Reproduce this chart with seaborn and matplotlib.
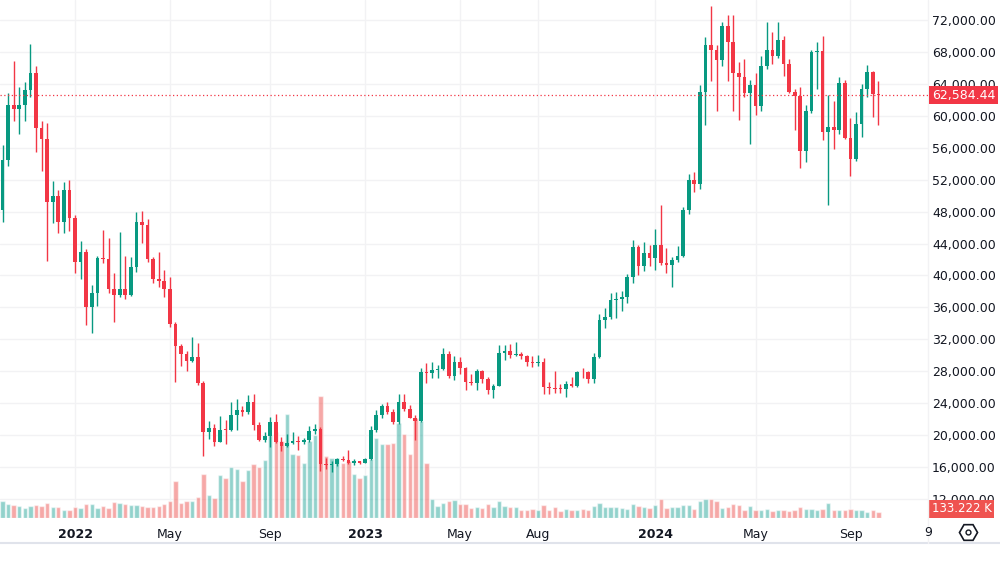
import numpy as np
import pandas as pd
import matplotlib
matplotlib.use("Agg")
import matplotlib.pyplot as plt
import seaborn as sns
from matplotlib.transforms import blended_transform_factory
from matplotlib.lines import Line2D

# Weekly BTC/USDT candles, week of 2021-10-04 ... 2024-10-07
opens = [48200, 54500, 61400, 60900, 61400, 63200, 65400, 58500, 57100, 49200,
         50000, 46700, 50700, 47200, 41700, 43000, 36000, 37800, 42200, 42000,
         38300, 37500, 38300, 37500, 41100, 46700, 46300, 42000, 39500, 39300,
         38300, 33900, 31200, 30200, 29300, 29800, 26500, 20400, 20900, 19200,
         20700, 20600, 22500, 23100, 22900, 24200, 21300, 19400, 19900, 21700,
         19200, 18600, 19000, 19300, 19200, 19400, 20500, 20800, 16350, 16200,
         16400, 17000, 16900, 16500, 16700, 16550, 17000, 20700, 22500, 23600,
         22900, 21600, 24200, 23300, 22200, 21800, 27900, 27800, 28100, 28300,
         30200, 27400, 29100, 28400, 26700, 26500, 28000, 27000, 25700, 26200,
         30300, 30600, 30000, 30200, 29900, 29100, 29000, 29200, 26000, 25900,
         25800, 25750, 26400, 26100, 27900, 27850, 27000, 29800, 34400, 34800,
         36900, 37100, 37250, 39800, 43600, 41200, 42800, 42200, 43800, 41500,
         41300, 41900, 42500, 48200, 52000, 51500, 63000, 68900, 68200, 67000,
         71200, 69200, 65400, 64800, 62900, 63900, 61200, 66200, 68300, 67500,
         69500, 66500, 63000, 62500, 55600, 60600, 68000, 68100, 58000, 58600,
         58200, 64100, 57200, 54600, 59000, 63400, 65500, 62700]
highs = [56400, 62800, 66900, 63600, 64200, 69000, 66300, 59400, 59100, 51800,
         50700, 51700, 52000, 47600, 44300, 43300, 38800, 42500, 45700, 44700,
         40300, 45400, 42500, 42300, 48000, 48100, 47100, 42300, 42900, 40700,
         39800, 34200, 31400, 30600, 32300, 31600, 26800, 21800, 21400, 22400,
         21900, 24200, 24500, 23600, 25000, 25200, 21700, 20400, 22300, 22700,
         19800, 20200, 20400, 19900, 19700, 21100, 21400, 21000, 17100, 16700,
         17100, 17400, 18200, 17000, 16800, 17100, 21100, 23200, 23900, 24200,
         23300, 25100, 25100, 23800, 22500, 28400, 29000, 29200, 28800, 30900,
         30500, 29900, 29800, 28500, 27700, 28300, 28200, 27300, 26400, 31300,
         31300, 31400, 31700, 30400, 30000, 29900, 30100, 29700, 26700, 28000,
         26400, 26800, 27300, 28000, 28400, 28000, 30300, 35200, 35900, 37800,
         37900, 38000, 40200, 44500, 43800, 44200, 43800, 45800, 48800, 43400,
         42300, 43700, 48600, 52700, 52900, 63900, 69900, 73700, 68900, 71700,
         72600, 72600, 66700, 67100, 64500, 65300, 67500, 71800, 70500, 71800,
         70000, 67100, 63400, 63600, 61400, 68200, 69200, 70000, 62600, 61800,
         64900, 64500, 59700, 60500, 64000, 66400, 65600, 64400]
lows = [46700, 53700, 59400, 57700, 59300, 62300, 55500, 53100, 41800, 46600,
        45300, 45300, 45600, 40300, 39600, 33800, 32800, 36200, 41500, 37800,
        34200, 37300, 37000, 37400, 40400, 44100, 41700, 39100, 38600, 37300,
        33600, 26600, 28600, 28000, 29200, 26300, 17400, 19500, 18600, 19100,
        18900, 20500, 20600, 22400, 22600, 20600, 19300, 19100, 18500, 19000,
        18000, 18500, 18900, 18200, 18900, 19200, 20100, 15500, 15800, 15400,
        16100, 16700, 16400, 16300, 16400, 16500, 16900, 20400, 22200, 22700,
        21400, 21400, 23000, 22100, 19400, 21700, 26500, 27100, 27200, 28200,
        27100, 26900, 27700, 25700, 26300, 25700, 26500, 25200, 24700, 26100,
        29400, 29700, 29900, 29500, 28700, 28500, 28600, 25100, 25200, 25300,
        25300, 24800, 26000, 26000, 27100, 26500, 26500, 29700, 33400, 34500,
        34700, 35600, 36600, 39000, 40100, 40500, 41200, 40700, 41300, 40300,
        38500, 41700, 42300, 47700, 50400, 50800, 58800, 64300, 60600, 66300,
        64400, 60600, 59500, 62300, 56500, 60100, 60600, 65800, 66500, 67300,
        65000, 62800, 58200, 53400, 54200, 60400, 63400, 57000, 48800, 55900,
        57700, 57100, 52500, 54400, 57400, 62400, 59800, 58800]
closes = [54500, 61400, 60900, 61400, 63200, 65400, 58500, 57100, 49200, 50000,
          46700, 50700, 47200, 41700, 43000, 36000, 37800, 42200, 42000, 38300,
          37500, 38300, 37500, 41100, 46700, 46300, 42000, 39500, 39300, 38300,
          33900, 31200, 30200, 29300, 29800, 26500, 20400, 20900, 19200, 20700,
          20600, 22500, 23100, 22900, 24200, 21300, 19400, 19900, 21700, 19200,
          18600, 19000, 19300, 19200, 19400, 20500, 20800, 16350, 16200, 16400,
          17000, 16900, 16500, 16700, 16550, 17000, 20700, 22500, 23600, 22900,
          21600, 24200, 23300, 22200, 21800, 27900, 27800, 28100, 28300, 30200,
          27400, 29100, 28400, 26700, 26500, 28000, 27000, 25700, 26200, 30300,
          30600, 30000, 30200, 29900, 29100, 29000, 29200, 26000, 25900, 25800,
          25750, 26400, 26100, 27900, 27850, 27000, 29800, 34400, 34800, 36900,
          37100, 37250, 39800, 43600, 41200, 42800, 42200, 43800, 41500, 41300,
          41900, 42500, 48200, 52000, 51500, 63000, 68900, 68200, 67000, 71200,
          69200, 65400, 64800, 62900, 63900, 61200, 66200, 68300, 67500, 69500,
          66500, 63000, 62500, 55600, 60600, 68000, 68100, 58000, 58600, 58200,
          64100, 57200, 54600, 59000, 63400, 65500, 62700, 62584.44]
# weekly volume, thousands of BTC
volumes_k = [353, 296, 281, 260, 218, 247, 281, 260, 324, 226,
             226, 176, 176, 233, 205, 290, 290, 218, 247, 205,
             338, 311, 302, 275, 269, 260, 226, 226, 247, 302,
             360, 783, 307, 355, 355, 444, 924, 476, 419, 899,
             842, 1072, 1032, 776, 1009, 1136, 1085, 1222, 1755, 1829,
             1629, 2210, 1354, 1332, 1163, 1629, 1755, 2580, 1311, 1269,
             1269, 1163, 1206, 931, 846, 909, 1248, 1692, 1555, 1555,
             1586, 1999, 1787, 1364, 2115, 2062, 1153, 412, 264, 307,
             349, 381, 296, 296, 212, 233, 212, 302, 239, 353,
             260, 226, 239, 169, 169, 190, 169, 275, 176, 226,
             154, 190, 176, 176, 190, 169, 260, 317, 226, 226,
             226, 205, 190, 296, 260, 226, 212, 275, 402, 212,
             239, 226, 275, 275, 190, 353, 402, 402, 353, 212,
             239, 296, 275, 176, 247, 169, 176, 190, 142, 169,
             169, 142, 169, 226, 190, 190, 169, 190, 317, 169,
             169, 169, 190, 169, 169, 133, 169, 133.222]

tick_idx = [13, 30, 48, 65, 82, 96, 117, 135, 152]
tick_labels = ["2022", "May", "Sep", "2023", "May", "Aug", "2024", "May", "Sep"]
year_labels = {"2022", "2023", "2024"}
price_ticks = list(range(12000, 72001, 4000))
last_price = closes[-1]
last_volume_k = volumes_k[-1]

UP, DOWN = "#089981", "#F23645"
VUP, VDOWN = "#26a69a", "#ef5350"
TXT = "#131722"
GRID = "#f2f2f4"

sns.set_theme(style="white")
plt.rcParams["font.family"] = ["DejaVu Sans"]

n = len(closes)
idx = np.arange(n)
o = np.array(opens, float)
c = np.array(closes, float)
h = np.array(highs, float)
l = np.array(lows, float)
up = c >= o
df = pd.DataFrame({"idx": idx, "vol": volumes_k,
                   "dir": np.where(up, "up", "down")})

W, H = 1000, 562
fig = plt.figure(figsize=(10, 5.62), dpi=100)
fig.patch.set_facecolor("white")
pos = [0, 44 / H, 928 / W, 518 / H]
ax = fig.add_axes(pos)            # grid + labels
axv = fig.add_axes(pos, sharex=ax)  # volume
axc = fig.add_axes(pos, sharex=ax, sharey=ax)  # candles
ax.set_zorder(0)
axv.set_zorder(1)
axc.set_zorder(2)
ax.set_facecolor("white")

# volume
sns.barplot(data=df, x="idx", y="vol", hue="dir",
            palette={"up": VUP, "down": VDOWN}, dodge=False,
            native_scale=True, width=0.78, alpha=0.5, saturation=1,
            errorbar=None, legend=False, ax=axv)
axv.set_ylim(0, 518 * 21.15)
axv.axis("off")

# candles
col = np.where(up, UP, DOWN)
axc.vlines(idx, l, h, colors=col, lw=1.0)
body_lo = np.minimum(o, c)
body_h = np.maximum(np.abs(c - o), 110)
axc.bar(idx, body_h, bottom=body_lo, width=0.66, color=col, linewidth=0)
axc.axhline(last_price, color=DOWN, lw=0.9, ls=(0, (1, 2)))
axc.axis("off")

# axes limits / ticks
ax.set_xlim(-0.45, 165.9)
ax.set_ylim(9620, 74505)
ax.yaxis.tick_right()
ax.set_yticks(price_ticks)
ax.set_yticklabels([f"{v:,.2f}" for v in price_ticks])
ax.set_xticks(tick_idx)
ax.set_xticklabels(tick_labels)
for t in ax.get_xticklabels():
    if t.get_text() in year_labels:
        t.set_fontweight("bold")
ax.tick_params(axis="y", length=0, pad=3, labelsize=9, labelcolor=TXT)
ax.tick_params(axis="x", length=0, pad=7, labelsize=9, labelcolor=TXT)
ax.grid(True, color=GRID, lw=1)
ax.set_xlabel("")
ax.set_ylabel("")
for s in ax.spines.values():
    s.set_visible(False)

# last price label
tr = blended_transform_factory(axc.transAxes, axc.transData)
axc.text(1.0 + 4 / 928, last_price, f"{last_price:,.2f}", transform=tr,
         ha="left", va="center", color="white", fontsize=9,
         bbox=dict(boxstyle="square,pad=0.22", fc=DOWN, ec="none"),
         clip_on=False)
trv = blended_transform_factory(axv.transAxes, axv.transData)
axv.text(1.0 + 4 / 928, last_volume_k + 60, f"{last_volume_k:.3f} K", transform=trv,
         ha="left", va="center", color="white", fontsize=8.5,
         bbox=dict(boxstyle="square,pad=0.22", fc=VDOWN, ec="none"),
         clip_on=False)

# frame lines and footer
fig.add_artist(Line2D([0, 1], [1 - 543 / H] * 2, transform=fig.transFigure,
                      color="#e0e3eb", lw=1.5))
fig.add_artist(Line2D([928 / W] * 2, [1 - 543 / H, 1], transform=fig.transFigure,
                      color=GRID, lw=1))
fig.text(928 / W, 1 - 532 / H, "9", ha="center", va="center", fontsize=9, color=TXT)
fig.add_artist(Line2D([968 / W], [1 - 532 / H], transform=fig.transFigure,
                      marker="H", ms=13, mfc="none", mec=TXT, mew=1.2, ls="none"))
fig.add_artist(Line2D([968 / W], [1 - 532 / H], transform=fig.transFigure,
                      marker="o", ms=3.5, mfc="none", mec=TXT, mew=1.0, ls="none"))

fig.savefig("out.png", dpi=100, facecolor="white")
